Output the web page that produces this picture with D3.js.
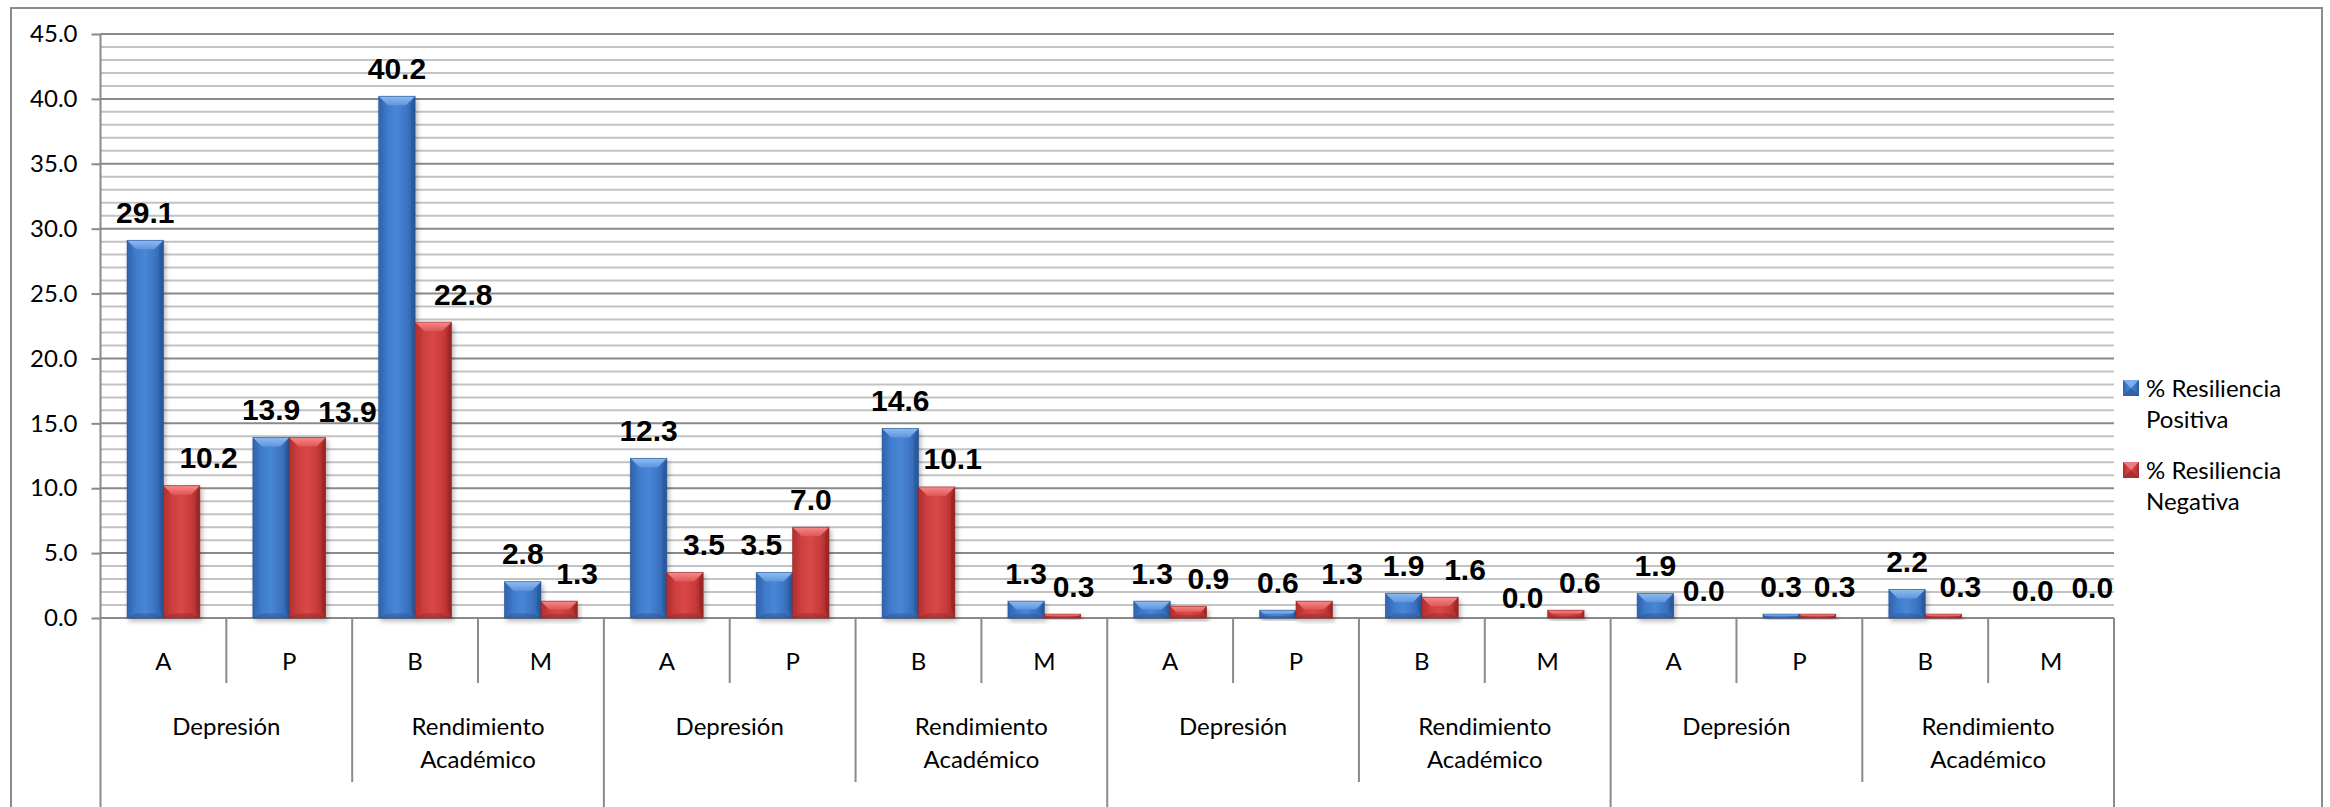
<!DOCTYPE html>
<html>
<head>
<meta charset="utf-8">
<script src="https://cdn.jsdelivr.net/npm/d3@7"></script>
<style>
  html, body { margin: 0; padding: 0; background: #fff; }
  svg { display: block; }
</style>
</head>
<body>
<svg id="chart" width="2330" height="807"></svg>
<script>
// ---------------- data ----------------
const categories = ["A","P","B","M","A","P","B","M","A","P","B","M","A","P","B","M"];
const groups = ["Depresión", "Rendimiento\nAcadémico", "Depresión", "Rendimiento\nAcadémico",
                "Depresión", "Rendimiento\nAcadémico", "Depresión", "Rendimiento\nAcadémico"];
const seriesNames = ["% Resiliencia Positiva", "% Resiliencia Negativa"];
const positiva = [29.1, 13.9, 40.2, 2.8, 12.3, 3.5, 14.6, 1.3, 1.3, 0.6, 1.9, 0.0, 1.9, 0.3, 2.2, 0.0];
const negativa = [10.2, 13.9, 22.8, 1.3, 3.5, 7.0, 10.1, 0.3, 0.9, 1.3, 1.6, 0.6, 0.0, 0.3, 0.3, 0.0];
const yTicks = [0, 5, 10, 15, 20, 25, 30, 35, 40, 45];
// manual label nudges (pixels) as placed in the original
const posLabelDx = [0,0,0,0,0,-13,0,0,0,0,0,-7,0,0,0,0];
const posLabelDy = [0,0,0,0,0,0,0,0,0,0,0,7.5,0,0,0,0];
const negLabelDx = [27,40,30,18,19,0,16,11,20,28,25,14,12,17,17,23];
const negLabelDy = [0,2,0,0,0,0,0,0,0,0,0,0,0,0,0,-3];

// ---------------- layout ----------------
const W = 2330, H = 807;
const plotL = 100.5, plotR = 2114, plotT = 34, plotB = 618;
const svg = d3.select("#chart");
const uiFont = "Lato, 'Open Sans', sans-serif";
const lblFont = "'Liberation Sans', Arial, sans-serif";

svg.append("rect").attr("width", W).attr("height", H).attr("fill", "#fff");

const x0 = d3.scaleBand().domain(d3.range(categories.length)).range([plotL, plotR]).paddingInner(0).paddingOuter(0);
const x1 = d3.scaleBand().domain([0, 1]).range([0, x0.bandwidth()]).paddingInner(0).paddingOuter(0.73);
const y = d3.scaleLinear().domain([0, 45]).range([plotB, plotT]);

// outer chart border
svg.append("rect").attr("x", 11).attr("y", 8).attr("width", 2311).attr("height", 900)
  .attr("fill", "none").attr("stroke", "#8c8c8c").attr("stroke-width", 2);

// gridlines: minor every 1, major every 5
const gridVals = d3.range(0, 46, 1);
svg.append("g").selectAll("line").data(gridVals.filter(v => v % 5 !== 0)).join("line")
  .attr("x1", plotL).attr("x2", plotR)
  .attr("y1", d => y(d)).attr("y2", d => y(d))
  .attr("stroke", "#c3c3c3").attr("stroke-width", 2);
svg.append("g").selectAll("line").data(gridVals.filter(v => v % 5 === 0 && v !== 0)).join("line")
  .attr("x1", plotL).attr("x2", plotR)
  .attr("y1", d => y(d)).attr("y2", d => y(d))
  .attr("stroke", "#8a8a8a").attr("stroke-width", 2);

// y axis
const yAxis = d3.axisLeft(y).tickValues(yTicks).tickFormat(d3.format(".1f")).tickSize(9).tickPadding(14);
const yG = svg.append("g").attr("transform", `translate(${plotL},0)`).call(yAxis);
yG.select(".domain").remove();
yG.selectAll(".tick line").attr("stroke", "#8a8a8a").attr("stroke-width", 2);
yG.selectAll(".tick text").attr("font-family", uiFont).attr("font-size", 24).attr("fill", "#000");
svg.append("line").attr("x1", plotL).attr("x2", plotL).attr("y1", plotT).attr("y2", H + 10)
  .attr("stroke", "#8a8a8a").attr("stroke-width", 2);

// category axis line
svg.append("line").attr("x1", plotL).attr("x2", plotR).attr("y1", plotB).attr("y2", plotB)
  .attr("stroke", "#8a8a8a").attr("stroke-width", 2);

// hierarchical dividers
const bounds = d3.range(1, categories.length + 1);
svg.append("g").selectAll("line").data(bounds).join("line")
  .attr("x1", k => k < categories.length ? x0(k) : plotR)
  .attr("x2", k => k < categories.length ? x0(k) : plotR)
  .attr("y1", plotB)
  .attr("y2", k => k % 4 === 0 ? H + 10 : (k % 2 === 0 ? 782 : 683))
  .attr("stroke", "#8a8a8a").attr("stroke-width", 2);

// category letters
svg.append("g").selectAll("text").data(categories).join("text")
  .attr("x", (d, i) => x0(i) + x0.bandwidth() / 2).attr("y", 670)
  .attr("text-anchor", "middle").attr("font-family", uiFont).attr("font-size", 24).attr("fill", "#000")
  .text(d => d);

// group labels
const gl = svg.append("g").selectAll("text").data(groups).join("text")
  .attr("x", (d, i) => x0(i * 2) + x0.bandwidth())
  .attr("y", 735)
  .attr("text-anchor", "middle").attr("font-family", uiFont).attr("font-size", 24).attr("fill", "#000");
gl.each(function(d, i) {
  const lines = d.split("\n");
  const cx = x0(i * 2) + x0.bandwidth();
  d3.select(this).selectAll("tspan").data(lines).join("tspan")
    .attr("x", cx).attr("dy", (l, j) => j === 0 ? 0 : 33).text(l => l);
});

// gradients
const defs = svg.append("defs");
const palette = [
  { body: ["#2f62ad", "#3f7ccc", "#4886d6", "#3d76c4", "#2c5da3"], top: ["#5f95dc", "#8cbcf2"], left: "#3569b5", right: "#285597", bottom: "#2a5699" },
  { body: ["#ad2d2d", "#cf4040", "#d94747", "#c93c3c", "#a52a2a"], top: ["#e05656", "#f58a8a"], left: "#bd3535", right: "#962525", bottom: "#9a2828" }
];
palette.forEach((p, s) => {
  const g = defs.append("linearGradient").attr("id", "body" + s).attr("x1", "0").attr("x2", "1").attr("y1", "0").attr("y2", "0");
  p.body.forEach((c, j) => g.append("stop").attr("offset", j / (p.body.length - 1)).attr("stop-color", c));
  const t = defs.append("linearGradient").attr("id", "top" + s).attr("x1", "0").attr("x2", "0").attr("y1", "1").attr("y2", "0");
  t.append("stop").attr("offset", 0).attr("stop-color", p.top[0]);
  t.append("stop").attr("offset", 1).attr("stop-color", p.top[1]);
});
const f = defs.append("filter").attr("id", "shadow").attr("x", "-20%").attr("y", "-20%").attr("width", "150%").attr("height", "150%");
f.append("feDropShadow").attr("dx", 2).attr("dy", 3).attr("stdDeviation", 2.5).attr("flood-color", "#000").attr("flood-opacity", 0.28);

// bars
const seriesData = [positiva, negativa];
const barsG = svg.append("g");
seriesData.forEach((vals, s) => {
  const p = palette[s];
  vals.forEach((v, i) => {
    const bx = x0(i) + x1(s), bw = x1.bandwidth();
    const by = y(v), bh = y(0) - y(v);
    if (bh < 0.5) return;
    const g = barsG.append("g").attr("filter", "url(#shadow)");
    const d = Math.min(9, bh / 2, bw / 2);
    g.append("rect").attr("x", bx).attr("y", by).attr("width", bw).attr("height", bh).attr("fill", `url(#body${s})`);
    // left facet
    g.append("polygon").attr("points", [[bx, by], [bx + d * 0.45, by + d], [bx + d * 0.45, by + bh - d], [bx, by + bh]].join(" "))
      .attr("fill", p.left).attr("opacity", 0.55);
    // right facet
    g.append("polygon").attr("points", [[bx + bw, by], [bx + bw - d * 0.45, by + d], [bx + bw - d * 0.45, by + bh - d], [bx + bw, by + bh]].join(" "))
      .attr("fill", p.right).attr("opacity", 0.6);
    // bottom facet
    g.append("polygon").attr("points", [[bx, by + bh], [bx + d, by + bh - d * 0.5], [bx + bw - d, by + bh - d * 0.5], [bx + bw, by + bh]].join(" "))
      .attr("fill", p.bottom).attr("opacity", 0.5);
    // top bevel
    g.append("polygon").attr("points", [[bx, by], [bx + bw, by], [bx + bw - d, by + d], [bx + d, by + d]].join(" "))
      .attr("fill", `url(#top${s})`);
    g.append("rect").attr("x", bx).attr("y", by).attr("width", bw).attr("height", bh)
      .attr("fill", "none").attr("stroke", s === 0 ? "#244f8f" : "#8e2222").attr("stroke-width", 0.8).attr("opacity", 0.7);
  });
});

// data labels
const fmt = d3.format(".1f");
const lblG = svg.append("g");
const dxs = [posLabelDx, negLabelDx], dys = [posLabelDy, negLabelDy];
seriesData.forEach((vals, s) => {
  lblG.selectAll(null).data(vals).join("text")
    .attr("x", (v, i) => x0(i) + x1(s) + x1.bandwidth() / 2 + dxs[s][i])
    .attr("y", (v, i) => y(v) - 17.5 + dys[s][i])
    .attr("text-anchor", "middle").attr("font-family", lblFont).attr("font-weight", "bold")
    .attr("font-size", 30).attr("fill", "#000")
    .text(v => fmt(v));
});

// legend
const legend = svg.append("g");
const legItems = [
  { s: 0, lines: ["% Resiliencia", "Positiva"], y: 380 },
  { s: 1, lines: ["% Resiliencia", "Negativa"], y: 462 }
];
legItems.forEach(it => {
  const g = legend.append("g");
  const sx = 2123, sw = 16, sy = it.y;
  g.append("rect").attr("x", sx).attr("y", sy).attr("width", sw).attr("height", sw).attr("fill", `url(#body${it.s})`);
  g.append("polygon").attr("points", [[sx, sy], [sx + sw, sy], [sx + sw / 2, sy + sw / 2]].join(" ")).attr("fill", palette[it.s].top[1]).attr("opacity", 0.8);
  g.append("polygon").attr("points", [[sx, sy + sw], [sx + sw, sy + sw], [sx + sw / 2, sy + sw / 2]].join(" ")).attr("fill", palette[it.s].bottom).attr("opacity", 0.7);
  const t = g.append("text").attr("x", 2146).attr("y", sy + 17).attr("font-family", uiFont).attr("font-size", 24).attr("fill", "#000");
  t.selectAll("tspan").data(it.lines).join("tspan").attr("x", 2146).attr("dy", (l, j) => j === 0 ? 0 : 31).text(l => l);
});
</script>
</body>
</html>
